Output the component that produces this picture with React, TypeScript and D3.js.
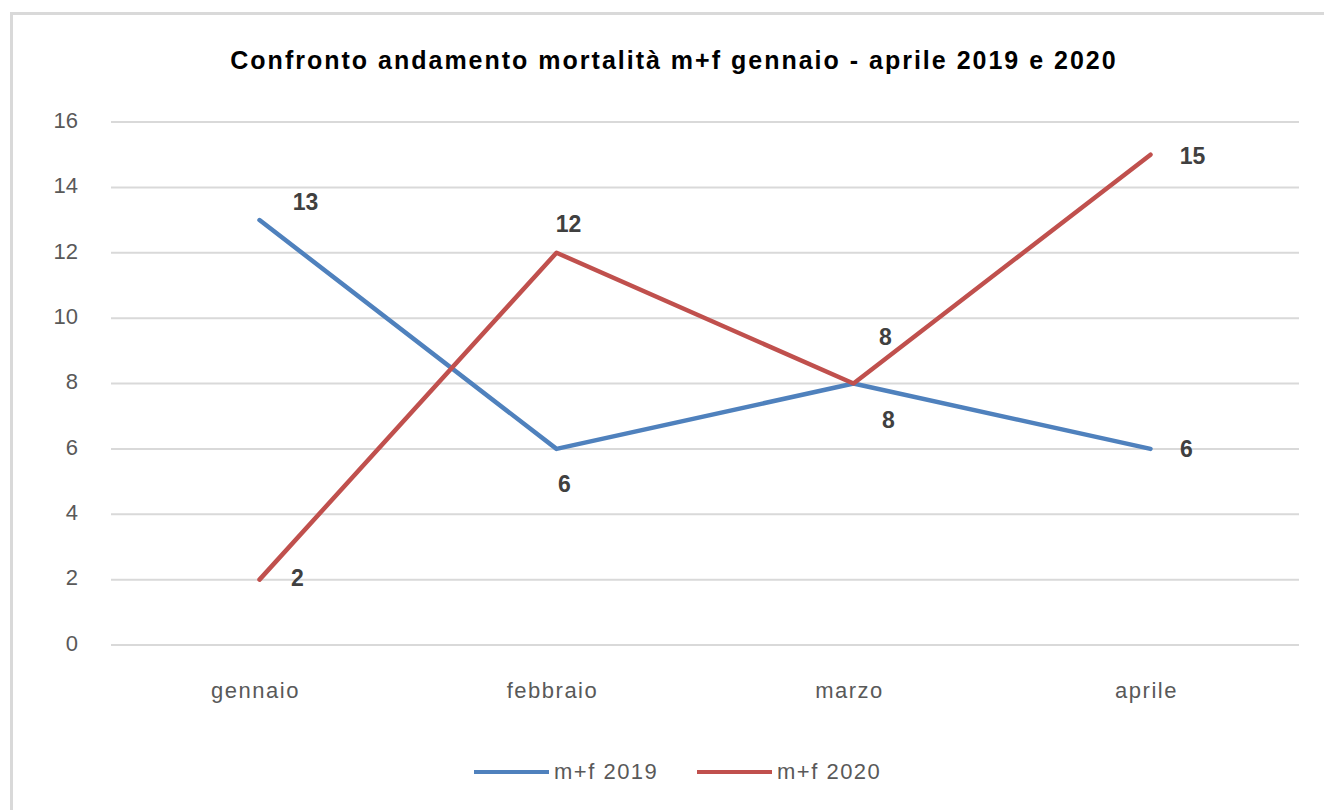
import * as React from 'react';
import * as d3 from 'd3';

const months = ['gennaio', 'febbraio', 'marzo', 'aprile'];
const values2019 = [13, 6, 8, 6];
const values2020 = [2, 12, 8, 15];
const yTicks = [0, 2, 4, 6, 8, 10, 12, 14, 16];

// label offsets (px) relative to each point
const labelOffsets2019: [number, number][] = [[46, -16], [8, 37], [35, 38], [36, 2]];
const labelOffsets2020: [number, number][] = [[38, 0], [12, -27], [32, -45], [42, 3]];

const W = 1324;
const H = 810;
const FONT = '"Liberation Sans", Arial, sans-serif';

type Series = { name: string; color: string; values: number[]; offsets: [number, number][] };

const series: Series[] = [
  { name: 'm+f 2019', color: '#4f81bd', values: values2019, offsets: labelOffsets2019 },
  { name: 'm+f 2020', color: '#c0504d', values: values2020, offsets: labelOffsets2020 },
];

export default function App() {
  const margin = { left: 111, right: W - 1299, top: 122, bottom: H - 645 };

  const x = d3
    .scaleBand<string>()
    .domain(months)
    .range([margin.left, W - margin.right]);
  const y = d3.scaleLinear().domain([0, 16]).range([H - margin.bottom, margin.top]);

  const cx = (m: string) => (x(m) ?? 0) + x.bandwidth() / 2;

  const line = d3
    .line<number>()
    .x((_, i) => cx(months[i]))
    .y((d) => y(d));

  return (
    <svg
      width={W}
      height={H}
      style={{ position: 'absolute', left: 0, top: 0, background: '#fff' }}
      fontFamily={FONT}
    >
      {/* chart frame */}
      <rect x={11.5} y={13.5} width={W + 10} height={H + 10} fill="#fff" stroke="#d9d9d9" strokeWidth={3} />

      <text
        x={674}
        y={62}
        textAnchor="middle"
        dominantBaseline="middle"
        fontSize={25}
        fontWeight="bold"
        letterSpacing={2}
        fill="#000"
      >
        Confronto andamento mortalità m+f gennaio - aprile 2019 e 2020
      </text>

      {/* grid + y labels */}
      {yTicks.map((t) => (
        <g key={t}>
          <line x1={margin.left} x2={W - margin.right} y1={y(t)} y2={y(t)} stroke="#d9d9d9" strokeWidth={2} />
          <text x={78} y={y(t)} textAnchor="end" dominantBaseline="middle" fontSize={22} fill="#595959">
            {t}
          </text>
        </g>
      ))}

      {/* x labels */}
      {months.map((m) => (
        <text
          key={m}
          x={cx(m) - 4}
          y={692}
          textAnchor="middle"
          dominantBaseline="middle"
          fontSize={22}
          letterSpacing={1.5}
          fill="#595959"
        >
          {m}
        </text>
      ))}

      {/* lines */}
      {series.map((s) => (
        <path
          key={s.name}
          d={line(s.values) ?? ''}
          fill="none"
          stroke={s.color}
          strokeWidth={4.5}
          strokeLinejoin="round"
          strokeLinecap="round"
        />
      ))}

      {/* data labels */}
      {series.map((s) =>
        s.values.map((v, i) => (
          <text
            key={s.name + i}
            x={cx(months[i]) + s.offsets[i][0]}
            y={y(v) + s.offsets[i][1]}
            textAnchor="middle"
            dominantBaseline="middle"
            fontSize={23}
            fontWeight="bold"
            fill="#404040"
          >
            {v}
          </text>
        ))
      )}

      {/* legend */}
      {series.map((s, i) => {
        const lx = 474 + i * 223;
        return (
          <g key={s.name}>
            <line x1={lx} x2={lx + 75} y1={772} y2={772} stroke={s.color} strokeWidth={4} />
            <text
              x={lx + 80}
              y={773}
              dominantBaseline="middle"
              fontSize={22}
              letterSpacing={1.5}
              fill="#595959"
            >
              {s.name}
            </text>
          </g>
        );
      })}
    </svg>
  );
}
